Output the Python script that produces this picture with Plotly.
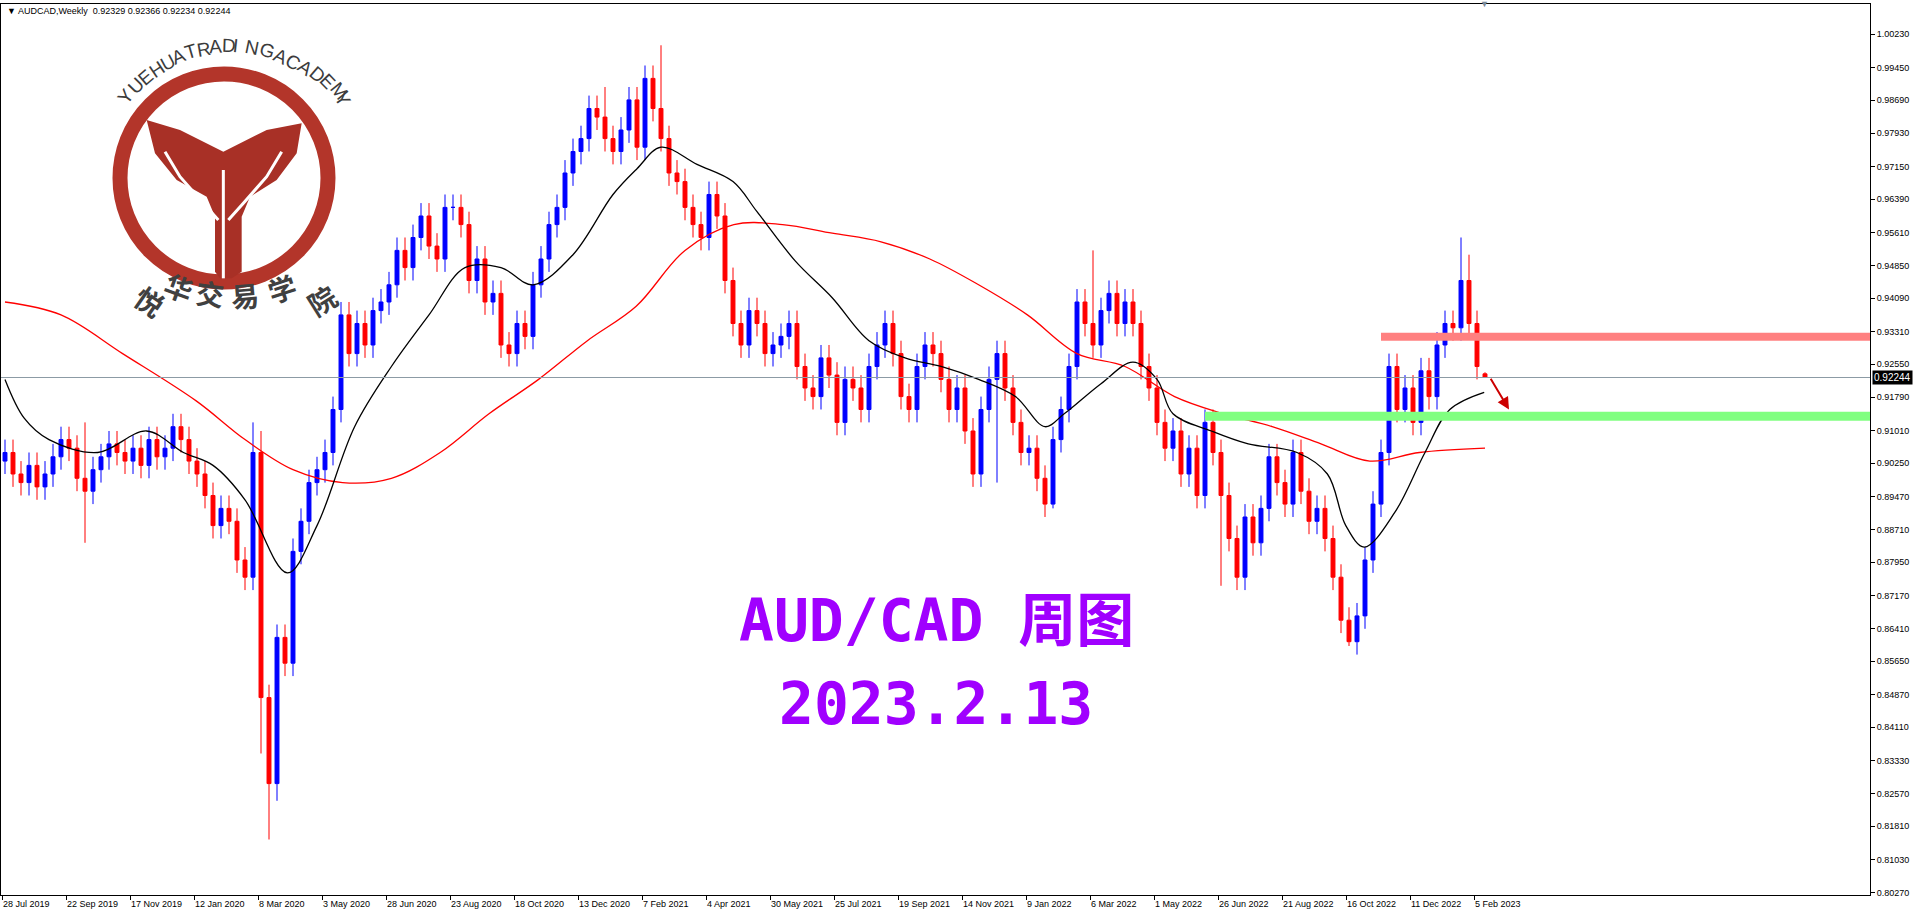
import math
import plotly.graph_objects as go

# weekly closes, AUDCAD, 28 Jul 2019 .. 12 Feb 2023
closes = [
    0.905, 0.900, 0.898, 0.902, 0.897, 0.900, 0.904, 0.908,
    0.906, 0.899, 0.896, 0.901, 0.904, 0.907, 0.905, 0.903,
    0.906, 0.902, 0.908, 0.904, 0.906, 0.911, 0.908, 0.903,
    0.900, 0.895, 0.888, 0.892, 0.889, 0.880, 0.876, 0.905,
    0.848, 0.828, 0.862, 0.856, 0.882, 0.889, 0.898, 0.901,
    0.905, 0.915, 0.937, 0.928, 0.935, 0.930, 0.938, 0.940,
    0.944, 0.952, 0.948, 0.955, 0.960, 0.953, 0.950, 0.962,
    0.962, 0.958, 0.945, 0.950, 0.940, 0.942, 0.930, 0.928,
    0.935, 0.932, 0.944, 0.950, 0.958, 0.962, 0.970, 0.975,
    0.978, 0.985, 0.983, 0.978, 0.975, 0.980, 0.987, 0.976,
    0.992, 0.985, 0.978, 0.970, 0.968, 0.962, 0.958, 0.955,
    0.965, 0.960, 0.945, 0.935, 0.930, 0.938, 0.935, 0.928,
    0.930, 0.932, 0.935, 0.925, 0.920, 0.918, 0.927, 0.923,
    0.912, 0.922, 0.920, 0.915, 0.925, 0.930, 0.935, 0.928,
    0.918, 0.915, 0.925, 0.930, 0.928, 0.922, 0.915, 0.920,
    0.910, 0.900, 0.915, 0.922, 0.928, 0.920, 0.912, 0.905,
    0.906, 0.899, 0.893, 0.908, 0.915, 0.925, 0.940, 0.935,
    0.930, 0.938, 0.942, 0.935, 0.940, 0.935, 0.925, 0.920,
    0.912, 0.906, 0.910, 0.900, 0.906, 0.895, 0.912, 0.905,
    0.895, 0.885, 0.876, 0.890, 0.884, 0.892, 0.904, 0.898,
    0.893, 0.905, 0.896, 0.889, 0.892, 0.885, 0.876, 0.866,
    0.861, 0.867, 0.880, 0.893, 0.905, 0.925, 0.915, 0.920,
    0.912, 0.924, 0.918, 0.930, 0.935, 0.934, 0.945, 0.935,
    0.925, 0.92244,
]
first_open = 0.903
last_open = 0.92329
default_wick = 0.003
high_marks = {10: 0.912, 31: 0.912, 32: 0.910, 75: 0.990, 82: 0.9997,
              136: 0.952, 182: 0.955, 183: 0.951, 185: 0.92366}
low_marks = {10: 0.884, 32: 0.835, 33: 0.815, 34: 0.824, 63: 0.925,
             124: 0.898, 131: 0.892, 152: 0.874, 168: 0.860, 185: 0.92234}

# moving averages (week index, price)
ma_fast = [(0, 0.922), (2.4, 0.913), (5.5, 0.908), (11.6, 0.905), (17.7, 0.910),
           (22.3, 0.905), (26, 0.902), (30, 0.894), (35.3, 0.877), (39, 0.888),
           (43.7, 0.911), (48.3, 0.925), (53, 0.937), (57.5, 0.948), (62, 0.948),
           (66, 0.944), (71, 0.951), (76, 0.965), (79, 0.971), (82, 0.976),
           (86.5, 0.972), (91, 0.968), (94, 0.961), (98.8, 0.9495), (103.4, 0.941),
           (108, 0.931), (112.5, 0.927), (117, 0.925), (121.7, 0.922), (126.3, 0.918),
           (130, 0.911), (132.4, 0.914), (137, 0.921), (141, 0.926), (144, 0.922),
           (146, 0.914), (150.8, 0.910), (155.4, 0.907), (161.5, 0.905), (165.3, 0.900),
           (167.6, 0.888), (169.9, 0.883), (173.7, 0.891), (177.5, 0.905),
           (180.6, 0.915), (184.9, 0.919)]
ma_slow = [(0, 0.940), (7, 0.937), (14.7, 0.928), (23.9, 0.917), (30, 0.908),
           (36, 0.901), (42.2, 0.898), (48.3, 0.899), (54.4, 0.905), (60.5, 0.914),
           (66.7, 0.922), (72.8, 0.931), (78.9, 0.939), (85, 0.952), (91.1, 0.958),
           (97.2, 0.958), (103.4, 0.956), (109.5, 0.954), (115.6, 0.950), (121.7, 0.944),
           (127.8, 0.937), (134, 0.928), (140, 0.925), (146.2, 0.918), (152.3, 0.914),
           (158.4, 0.911), (164.5, 0.907), (170.6, 0.903), (176.8, 0.905), (185, 0.906)]

date_labels = ["28 Jul 2019", "22 Sep 2019", "17 Nov 2019", "12 Jan 2020", "8 Mar 2020",
               "3 May 2020", "28 Jun 2020", "23 Aug 2020", "18 Oct 2020", "13 Dec 2020",
               "7 Feb 2021", "4 Apr 2021", "30 May 2021", "25 Jul 2021", "19 Sep 2021",
               "14 Nov 2021", "9 Jan 2022", "6 Mar 2022", "1 May 2022", "26 Jun 2022",
               "21 Aug 2022", "16 Oct 2022", "11 Dec 2022", "5 Feb 2023"]
price_ticks = [1.00230, 0.99450, 0.98690, 0.97930, 0.97150, 0.96390, 0.95610, 0.94850,
               0.94090, 0.93310, 0.92550, 0.91790, 0.91010, 0.90250, 0.89470, 0.88710,
               0.87950, 0.87170, 0.86410, 0.85650, 0.84870, 0.84110, 0.83330, 0.82570,
               0.81810, 0.81030, 0.80270]
last_price = 0.92244
resist_level = 0.9319
support_level = 0.9134

logo_latin = "YUEHUATRADINGACADEMY"
logo_han = "悦华交易学院"

opens = [first_open] + closes[:-2] + [last_open]
idx = list(range(len(closes)))
highs = [high_marks.get(i, max(o, c) + default_wick) for i, o, c in zip(idx, opens, closes)]
lows = [low_marks.get(i, min(o, c) - default_wick) for i, o, c in zip(idx, opens, closes)]

# plot area in pixels
L, T, R, B = 1, 4, 1870, 895
W, H = 1918, 918


def px(x, y):
    return (x - L) / (R - L), 1 - (y - T) / (B - T)


def zp(a, b):
    # logo sketch coords (3x crop) -> paper
    return px(a / 3 + 80, b / 3 + 30)


fig = go.Figure()
fig.add_trace(go.Candlestick(
    x=idx, open=opens, high=highs, low=lows, close=closes,
    increasing=dict(line=dict(color="#0000FF", width=1), fillcolor="#0000FF"),
    decreasing=dict(line=dict(color="#FF0000", width=1), fillcolor="#FF0000"),
    whiskerwidth=0, hoverinfo="skip"))
fig.add_trace(go.Scatter(x=[p[0] for p in ma_slow], y=[p[1] for p in ma_slow],
                         mode="lines", line=dict(color="#FF0000", width=1.3, shape="spline")))
fig.add_trace(go.Scatter(x=[p[0] for p in ma_fast], y=[p[1] for p in ma_fast],
                         mode="lines", line=dict(color="#000000", width=1.3, shape="spline")))

xr = [-0.5, (R - 5) / 8.0]
shapes = [
    dict(type="line", xref="paper", x0=0, x1=1, y0=last_price, y1=last_price,
         line=dict(color="#8C9BA5", width=1)),
    dict(type="line", x0=172, x1=xr[1], y0=resist_level, y1=resist_level,
         line=dict(color="#FF8080", width=8)),
    dict(type="line", x0=150, x1=xr[1], y0=support_level, y1=support_level,
         line=dict(color="#80FF80", width=9)),
]

# logo ring
cx, cy, rr = 224, 178, 104
x0, y0 = px(cx - rr, cy - rr)
x1, y1 = px(cx + rr, cy + rr)
shapes.append(dict(type="circle", xref="paper", yref="paper", x0=x0, y0=y0, x1=x1, y1=y1,
                   line=dict(color="#B3352A", width=15)))


def zpath(pts, close=True):
    s = ""
    for k, (a, b) in enumerate(pts):
        u, v = zp(a, b)
        s += ("M" if k == 0 else "L") + f"{u:.5f},{v:.5f} "
    return s + ("Z" if close else "")


emblem = [(200, 270), (300, 300), (430, 365), (560, 300), (665, 280), (650, 370), (590, 450),
          (510, 500), (485, 560), (485, 725), (455, 745), (420, 745), (405, 725), (405, 560),
          (380, 500), (290, 450), (225, 370)]
shapes.append(dict(type="path", xref="paper", yref="paper", path=zpath(emblem),
                   fillcolor="#A83026", line=dict(width=0)))
for pts in ([(255, 365), (300, 440), (370, 520), (415, 570)],
            [(605, 365), (560, 440), (490, 520), (445, 570)],
            [(430, 420), (430, 745)]):
    shapes.append(dict(type="path", xref="paper", yref="paper", path=zpath(pts, False),
                       line=dict(color="white", width=3)))

ann = []
for k, lab in enumerate(date_labels):
    ann.append(dict(x=k * 8 - 0.3, y=0, yref="paper", yanchor="top", xanchor="left", yshift=-2,
                    xshift=-2, text=lab, showarrow=False,
                    font=dict(size=9, color="#000000", family="Liberation Sans")))
ann.append(dict(x=1, xref="paper", y=last_price, xanchor="left", xshift=2, text="0.92244",
                showarrow=False, bgcolor="#000000", borderpad=1,
                font=dict(size=10, color="white", family="Liberation Sans")))
ann.append(dict(x=0.002, xref="paper", y=1, yref="paper", xanchor="left", yanchor="top",
                text="▼ AUDCAD,Weekly  0.92329 0.92366 0.92234 0.92244", showarrow=False,
                font=dict(size=9, color="#000000", family="Liberation Sans")))
ann.append(dict(x=0.797, xref="paper", y=1, yref="paper", yanchor="middle", text="▼",
                showarrow=False, font=dict(size=9, color="#7A8A99")))
ann.append(dict(x=188, y=0.9150, ax=185.6, ay=0.9225, axref="x", ayref="y", showarrow=True,
                arrowhead=2, arrowsize=1.2, arrowwidth=2, arrowcolor="#CC0000", text=""))
for txt, yy in (("AUD/CAD 周图", 657), ("2023.2.13", 740)):
    u, v = px(936, yy)
    ann.append(dict(x=u, y=v, xref="paper", yref="paper", text=f"<b>{txt}</b>", showarrow=False,
                    font=dict(size=58, color="#A000FF",
                              family="DejaVu Sans Mono, Noto Sans CJK SC")))

# logo lettering, placed where it sits in the crop
latin_pos = [(118, 195), (150, 160), (180, 135), (215, 110), (250, 90), (285, 75),
             (325, 62), (365, 55), (405, 50), (445, 47), (475, 47), (510, 50), (550, 55),
             (590, 75), (625, 90), (660, 105), (695, 125), (725, 150), (755, 175), (770, 205)]
for ch, (a, b) in zip(logo_latin, latin_pos):
    ang = math.degrees(math.atan2(430 - b, a - 432))
    u, v = zp(a, b)
    ann.append(dict(x=u, y=v, xref="paper", yref="paper", text=ch, showarrow=False,
                    textangle=90 - ang, xshift=-9, yshift=13,
                    font=dict(size=19, color="#3C3C3C", family="Liberation Sans")))
han_pos = [(178, 790, 35), (275, 830, 20), (380, 850, 7), (485, 855, -5), (585, 835, -18),
           (695, 790, -32)]
for ch, (a, b, rot) in zip(logo_han, han_pos):
    u, v = zp(a, b)
    ann.append(dict(x=u, y=v, xref="paper", yref="paper", text=f"<b>{ch}</b>", showarrow=False,
                    textangle=rot, xshift=-15, yshift=20,
                    font=dict(size=28, color="#404040", family="Noto Sans CJK SC")))

fig.update_layout(
    width=W, height=H, showlegend=False, plot_bgcolor="white", paper_bgcolor="white",
    margin=dict(l=L, r=W - R, t=T, b=H - B),
    font=dict(family="Liberation Sans", size=9, color="#000000"),
    shapes=shapes, annotations=ann,
    xaxis=dict(range=xr, rangeslider=dict(visible=False), showgrid=False, zeroline=False,
               tickvals=[k * 8 - 0.3 for k in range(len(date_labels))], ticktext=[""] * 24,
               ticks="outside", ticklen=4, tickcolor="#000", showline=True, linecolor="#000",
               mirror=True, linewidth=1),
    yaxis=dict(range=[0.80209, 1.0093], side="right", showgrid=False, zeroline=False,
               tickvals=price_ticks, ticktext=[f"{p:.5f}" for p in price_ticks],
               ticks="outside", ticklen=4, tickcolor="#000", showline=True, linecolor="#000",
               mirror=True, linewidth=1, tickfont=dict(size=9, family="Liberation Sans")),
)
fig.write_html("out.html", config={"displayModeBar": False},
               post_script="document.body.style.margin='0';")
